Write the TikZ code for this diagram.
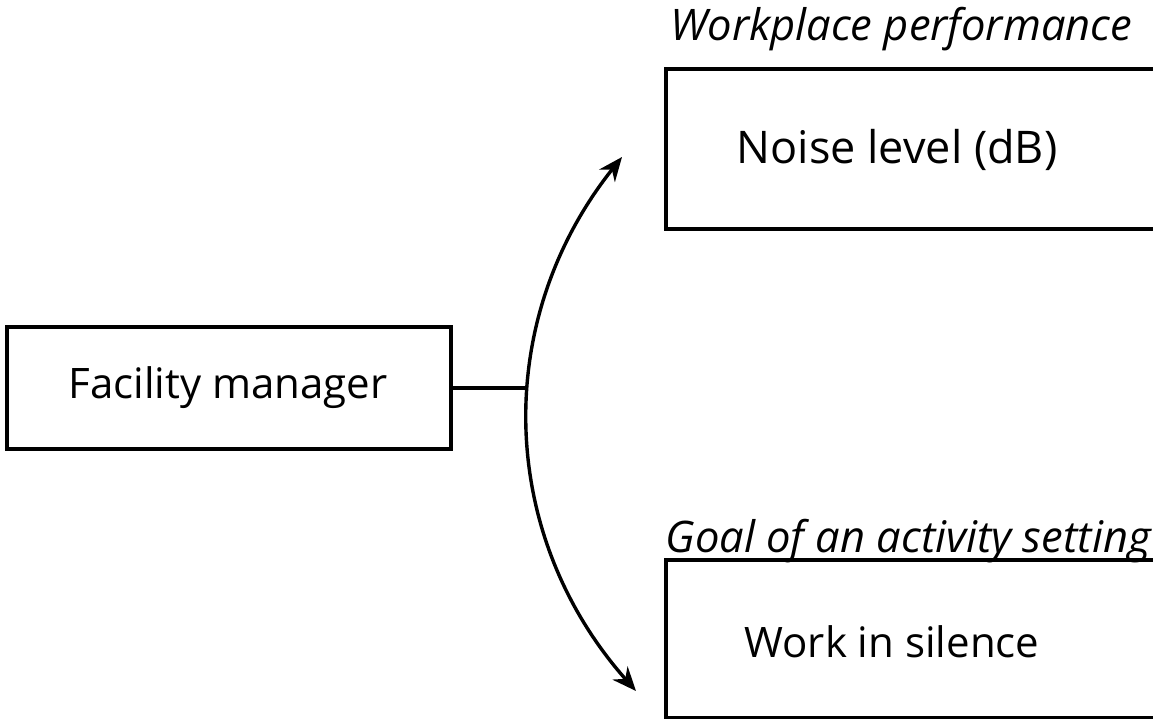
\documentclass[tikz,border=0pt]{standalone}
\usepackage{fontspec}
\setmainfont{Open Sans}
\usetikzlibrary{arrows.meta}

\begin{document}
\begin{tikzpicture}[x=1pt,y=1pt,yscale=-1,xscale=1,
  box/.style={draw, line width=3.4pt, inner sep=0pt},
  lbl/.style={font=\fontsize{42}{48}\selectfont},
  head/.style={font=\fontsize{43.5}{50}\selectfont\itshape},
  link/.style={line width=3.4pt},
  curved/.style={line width=3.4pt, {Stealth[length=24pt,width=20pt]}-{Stealth[length=24pt,width=20pt]}}]
\useasboundingbox (0,0) rectangle (1153,719);
\clip (0,0) rectangle (1153,719);

%Shape: Rectangle
\node [box, minimum width=444pt, minimum height=122pt] (fm) at (229,388) {};
%Shape: Rectangle
\node [box, minimum width=560pt, minimum height=160pt] (noise) at (946,149) {};
%Shape: Rectangle
\node [box, minimum width=560pt, minimum height=158pt] (silence) at (946,639) {};

% Text Node
\node [lbl] (fmtext) at (228,388) {Facility manager};
% Text Node
\node [lbl, font=\fontsize{45}{50}\selectfont] (noisetext) at (897,150) {Noise level (dB)};
% Text Node
\node [lbl] (silencetext) at (892,642) {Work in silence};
% Text Node
\node [head, anchor=west] (perf) at (667,29) {Workplace performance};
% Text Node
\node [head, anchor=west] (goal) at (662,541) {Goal of an activity setting};

%Straight Lines
\coordinate (hub) at (527,388);
\draw [link] (fm.east) -- (hub);
%Curve Lines
\coordinate (uptip) at (622,157);
\coordinate (downtip) at (636,691);
\draw [curved] (uptip) to[bend left=40] (downtip);

\end{tikzpicture}
\end{document}
